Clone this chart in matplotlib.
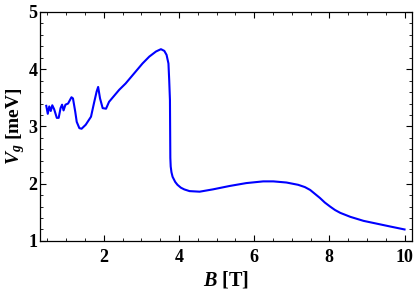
import matplotlib
matplotlib.use("Agg")
import matplotlib.pyplot as plt
from matplotlib.ticker import MultipleLocator

plt.rcParams['font.family'] = ['Liberation Serif']
plt.rcParams['font.weight'] = 'bold'
plt.rcParams['mathtext.fontset'] = 'custom'
plt.rcParams['mathtext.it'] = 'Liberation Serif:italic:bold'
plt.rcParams['mathtext.rm'] = 'Liberation Serif:bold'

B = [0.47, 0.51, 0.55, 0.59, 0.63, 0.68, 0.75, 0.80, 0.85, 0.89, 0.93, 0.98, 1.05, 1.14,
     1.18, 1.24, 1.28, 1.35, 1.41, 1.52, 1.66, 1.74, 1.81, 1.85, 1.90, 1.97, 2.06, 2.14,
     2.41, 2.58, 3.03, 3.21, 3.39, 3.52, 3.61, 3.67, 3.72, 3.74, 3.76, 3.77, 3.78, 3.80,
     3.83, 3.90, 3.96, 4.05, 4.14, 4.28, 4.55, 4.90, 5.35, 5.79, 6.24, 6.51, 6.86, 7.17,
     7.35, 7.49, 7.62, 7.75, 7.88, 8.02, 8.15, 8.29, 8.56, 8.91, 9.27, 9.63, 10.0]
Vg = [3.36, 3.22, 3.35, 3.27, 3.37, 3.30, 3.15, 3.15, 3.32, 3.38, 3.28, 3.38, 3.40, 3.51,
      3.49, 3.26, 3.08, 2.97, 2.96, 3.03, 3.17, 3.41, 3.61, 3.69, 3.49, 3.32, 3.31, 3.43,
      3.64, 3.75, 4.10, 4.22, 4.31, 4.35, 4.32, 4.25, 4.10, 3.81, 3.46, 2.45, 2.30, 2.20,
      2.12, 2.03, 1.98, 1.93, 1.90, 1.87, 1.86, 1.90, 1.96, 2.01, 2.04, 2.04, 2.02, 1.98,
      1.94, 1.89, 1.82, 1.75, 1.67, 1.60, 1.54, 1.49, 1.42, 1.35, 1.30, 1.25, 1.20]

fig = plt.figure(figsize=(4.15, 2.92), dpi=100)
ax = fig.add_axes([0.097, 0.175, 0.895, 0.784])
ax.plot(B, Vg, color='#0000ff', lw=1.5)
ax.set_xlim(0.31, 10.19)
ax.set_ylim(1, 5)
ax.xaxis.set_major_locator(MultipleLocator(2))
ax.xaxis.set_minor_locator(MultipleLocator(0.5))
ax.yaxis.set_major_locator(MultipleLocator(1))
ax.yaxis.set_minor_locator(MultipleLocator(0.2))
ax.tick_params(which='both', direction='in', top=True, right=True, labelsize=13)
ax.tick_params(which='major', length=4, width=0.8)
ax.tick_params(which='minor', length=2, width=0.6)
ax.tick_params(axis='x', which='major', pad=6)
ax.tick_params(axis='y', which='major', pad=2)
ax.set_xlabel(r'$B$ [T]', fontsize=14.5, fontweight='bold', labelpad=2)
ax.set_ylabel(r'$V_g$ [meV]', fontsize=14, fontweight='bold', labelpad=1)
for s in ax.spines.values():
    s.set_linewidth(0.9)
fig.savefig('out.png', dpi=100)
